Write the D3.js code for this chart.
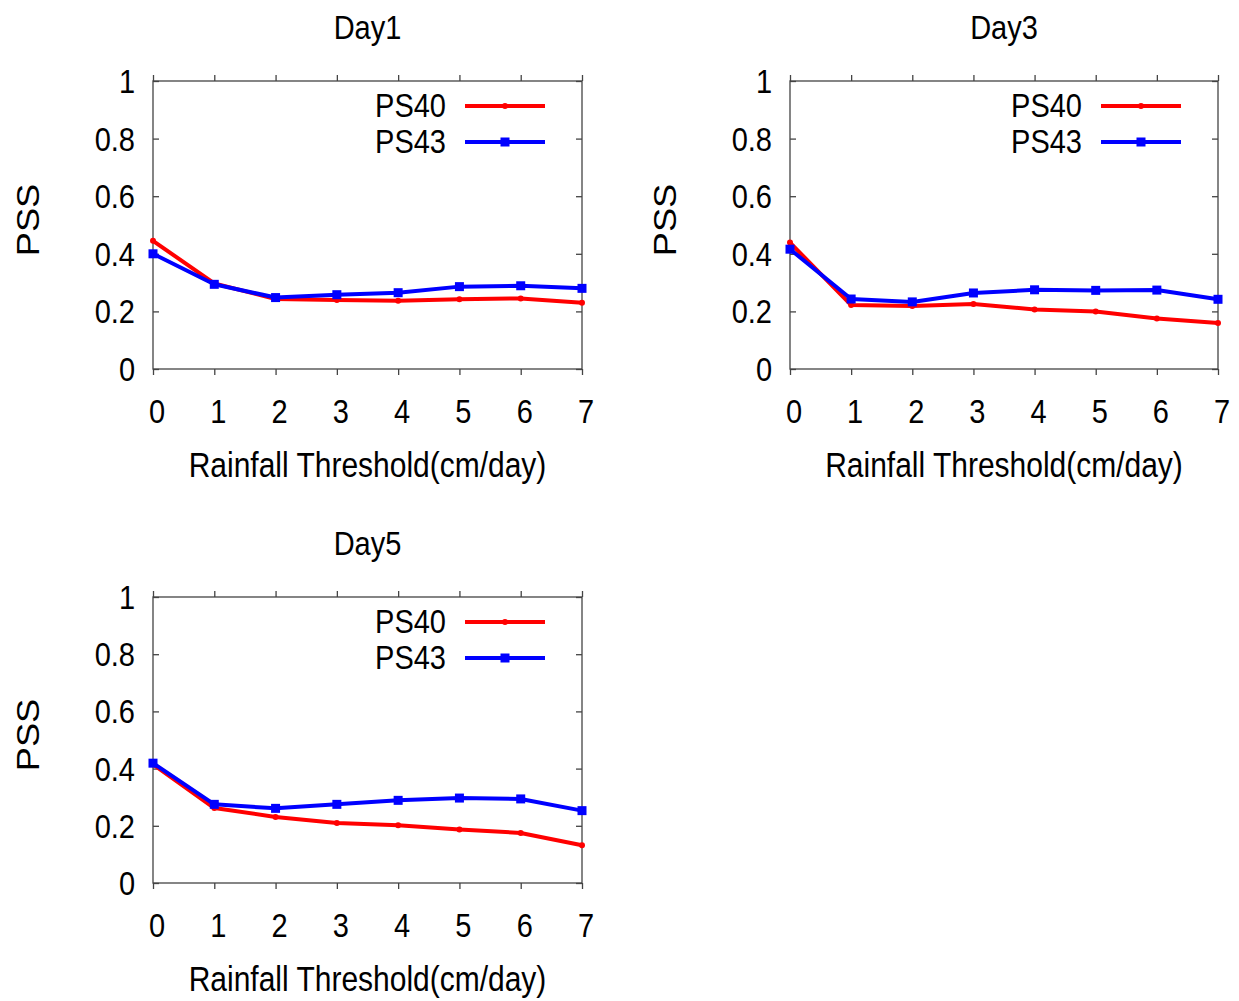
<!DOCTYPE html>
<html>
<head>
<meta charset="utf-8">
<script src="https://cdn.jsdelivr.net/npm/d3@7"></script>
<style>
  html, body { margin: 0; padding: 0; background: #fff; }
  svg text { font-family: "Liberation Sans", Arial, Helvetica, sans-serif; fill: #000; }
</style>
</head>
<body>
<svg id="chart" width="1239" height="1001"></svg>
<script>
// ---- data ----
const thresholds = [0, 1, 2, 3, 4, 5, 6, 7];
const xTickLabels = ["0", "1", "2", "3", "4", "5", "6", "7"];
const yTickValues = [0, 0.2, 0.4, 0.6, 0.8, 1];
const yTickLabels = ["0", "0.2", "0.4", "0.6", "0.8", "1"];
const seriesNames = ["PS40", "PS43"];
const panelTitles = ["Day1", "Day3", "Day5"];

const day1PS40 = [0.445, 0.297, 0.243, 0.240, 0.237, 0.242, 0.245, 0.230];
const day1PS43 = [0.400, 0.294, 0.248, 0.258, 0.265, 0.286, 0.289, 0.280];
const day3PS40 = [0.439, 0.222, 0.219, 0.226, 0.207, 0.200, 0.175, 0.160];
const day3PS43 = [0.416, 0.243, 0.233, 0.264, 0.275, 0.273, 0.274, 0.242];
const day5PS40 = [0.415, 0.262, 0.231, 0.210, 0.202, 0.187, 0.175, 0.132];
const day5PS43 = [0.419, 0.275, 0.261, 0.275, 0.289, 0.297, 0.294, 0.253];

const xLabel = "Rainfall Threshold(cm/day)";
const yLabel = "PSS";

// ---- layout ----
const colors = ["#ff0000", "#0000ff"];
const SY = 1.17; // vertical text stretch as in the reference raster
const panels = [
  { title: panelTitles[0], series: [day1PS40, day1PS43], left: 153, right: 582, top: 81, bottom: 369 },
  { title: panelTitles[1], series: [day3PS40, day3PS43], left: 790, right: 1218, top: 81, bottom: 369 },
  { title: panelTitles[2], series: [day5PS40, day5PS43], left: 153, right: 582, top: 597, bottom: 883 }
];

const svg = d3.select("#chart");

function addText(g, str, x, y, size, anchor, rotate) {
  const t = g.append("text")
    .attr("transform", `translate(${x},${y}) scale(1,${SY})` + (rotate ? ` rotate(${rotate})` : ""))
    .attr("font-size", size)
    .attr("text-anchor", anchor)
    .text(str);
  return t;
}

panels.forEach(p => {
  const g = svg.append("g");
  const x = d3.scaleLinear().domain([0, 7]).range([p.left, p.right]);
  const y = d3.scaleLinear().domain([0, 1]).range([p.bottom, p.top]);
  const frameColor = "#444";

  // x axes (bottom & top) ticks outward
  const xb = g.append("g").attr("transform", `translate(0,${p.bottom})`)
    .call(d3.axisBottom(x).tickValues(thresholds).tickSize(6).tickFormat(""));
  const xt = g.append("g").attr("transform", `translate(0,${p.top})`)
    .call(d3.axisTop(x).tickValues(thresholds).tickSize(6).tickFormat(""));
  // y axes (left & right) ticks inward
  const yl = g.append("g").attr("transform", `translate(${p.left},0)`)
    .call(d3.axisRight(y).tickValues(yTickValues).tickSize(6).tickFormat(""));
  const yr = g.append("g").attr("transform", `translate(${p.right},0)`)
    .call(d3.axisLeft(y).tickValues(yTickValues).tickSize(6).tickFormat(""));
  [xb, xt, yl, yr].forEach(a => {
    a.select(".domain").remove();
    a.selectAll(".tick line").attr("stroke", frameColor).attr("stroke-width", 1.3);
  });
  g.append("rect")
    .attr("x", p.left).attr("y", p.top)
    .attr("width", p.right - p.left).attr("height", p.bottom - p.top)
    .attr("fill", "none").attr("stroke", frameColor).attr("stroke-width", 1.3);

  // tick labels
  yTickValues.forEach((v, i) => addText(g, yTickLabels[i], p.left - 18, y(v) + 12, 29, "end"));
  thresholds.forEach((v, i) => addText(g, xTickLabels[i], x(v) + 4, p.bottom + 54, 29, "middle"));

  // axis titles
  addText(g, xLabel, (p.left + p.right) / 2, p.bottom + 108, 30, "middle");
  addText(g, yLabel, p.left - 114, (p.top + p.bottom) / 2 - 5, 31, "middle", -90);
  // panel title
  addText(g, p.title, (p.left + p.right) / 2, p.top - 42, 29, "middle");

  // lines
  const line = d3.line().x((d, i) => x(thresholds[i])).y(d => y(d));
  p.series.forEach((vals, si) => {
    g.append("path").datum(vals)
      .attr("d", line)
      .attr("fill", "none")
      .attr("stroke", colors[si])
      .attr("stroke-width", 4)
      .attr("stroke-linejoin", "round");
    const m = g.append("g").selectAll("g").data(vals).join("g")
      .attr("transform", (d, i) => `translate(${x(thresholds[i])},${y(d)})`);
    if (si === 0) {
      m.append("circle").attr("r", 3).attr("fill", colors[si]);
    } else {
      m.append("rect").attr("x", -4.5).attr("y", -4.5).attr("width", 9).attr("height", 9).attr("fill", colors[si]);
    }
  });

  // legend
  seriesNames.forEach((name, si) => {
    const ly = p.top + 25 + si * 36;
    addText(g, name, p.right - 136, ly + 11, 29, "end");
    g.append("line")
      .attr("x1", p.right - 117).attr("x2", p.right - 37)
      .attr("y1", ly).attr("y2", ly)
      .attr("stroke", colors[si]).attr("stroke-width", 4);
    if (si === 0) {
      g.append("circle").attr("cx", p.right - 77).attr("cy", ly).attr("r", 3).attr("fill", colors[si]);
    } else {
      g.append("rect").attr("x", p.right - 81.5).attr("y", ly - 4.5).attr("width", 9).attr("height", 9).attr("fill", colors[si]);
    }
  });
});
</script>
</body>
</html>
